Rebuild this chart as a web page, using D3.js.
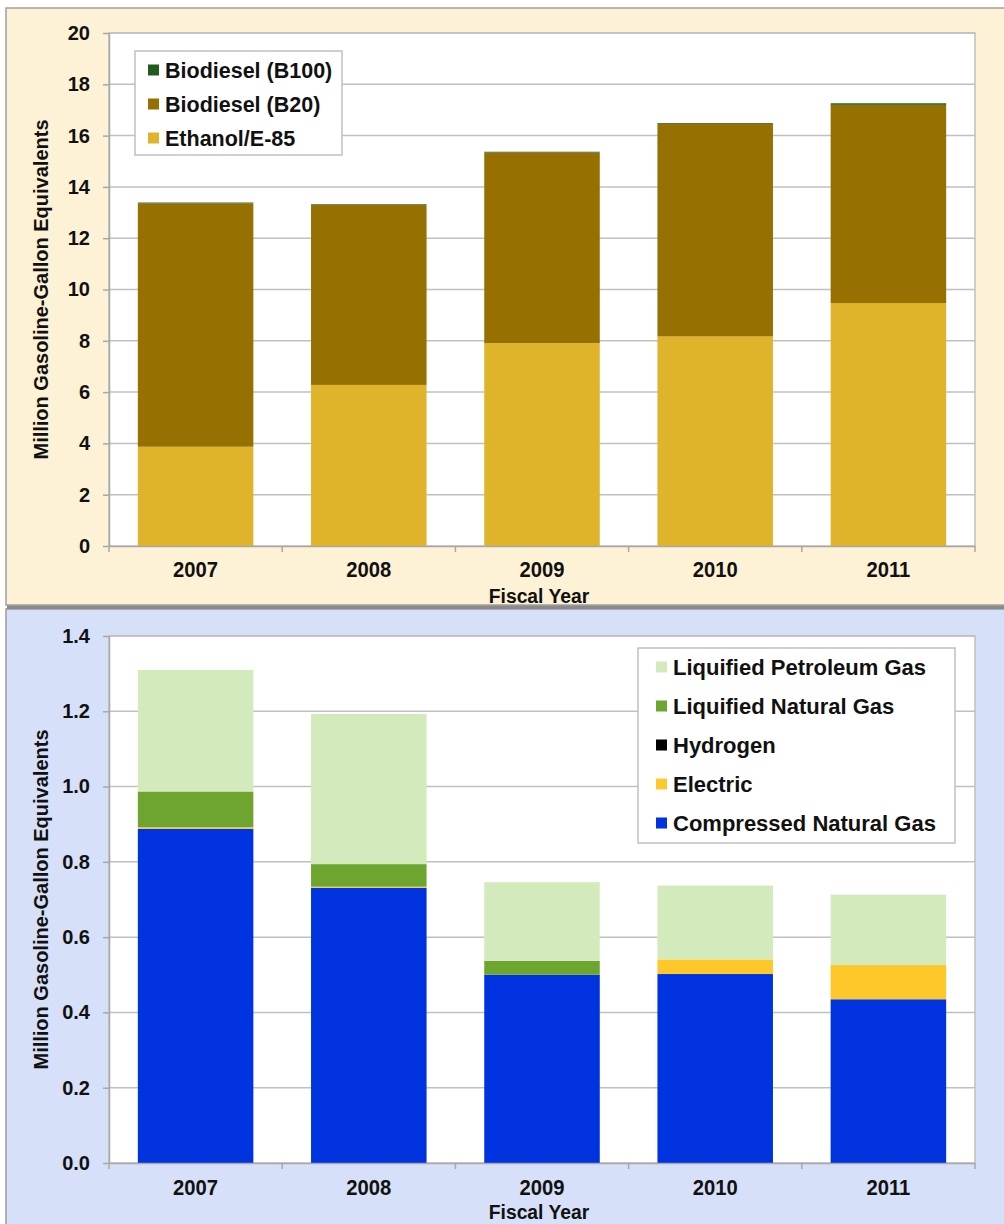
<!DOCTYPE html>
<html>
<head>
<meta charset="utf-8">
<script src="https://cdn.jsdelivr.net/npm/d3@7"></script>
<style>
  body { margin: 0; padding: 0; background: #ffffff; }
  svg text { font-family: "Liberation Sans", Arial, sans-serif; font-weight: bold; fill: #111; }
</style>
</head>
<body>
<svg id="chart" width="1004" height="1224"></svg>
<script>
// ---------- DATA ----------
const years = ["2007", "2008", "2009", "2010", "2011"];

// Top chart (Million Gasoline-Gallon Equivalents)
const ethanolE85 = [3.87, 6.28, 7.91, 8.17, 9.47];
const biodieselB20 = [9.49, 7.03, 7.43, 8.29, 7.73];
const biodieselB100 = [0.03, 0.02, 0.03, 0.03, 0.06];
const topTicks = [0, 2, 4, 6, 8, 10, 12, 14, 16, 18, 20];

// Bottom chart
const cng = [0.888, 0.731, 0.500, 0.502, 0.435];
const electric = [0.004, 0.003, 0.000, 0.039, 0.091];
const hydrogen = [0.000, 0.000, 0.000, 0.000, 0.000];
const lng = [0.095, 0.060, 0.037, 0.000, 0.000];
const lpg = [0.323, 0.399, 0.209, 0.196, 0.187];
const bottomTicks = [0, 0.2, 0.4, 0.6, 0.8, 1.0, 1.2, 1.4];

const topSeries = [
  { name: "Ethanol/E-85", values: ethanolE85, color: "#E0B42A" },
  { name: "Biodiesel (B20)", values: biodieselB20, color: "#967000" },
  { name: "Biodiesel (B100)", values: biodieselB100, color: "#1F5A1F" }
];
const bottomSeries = [
  { name: "Compressed Natural Gas", values: cng, color: "#0033E0" },
  { name: "Electric", values: electric, color: "#FFC82A" },
  { name: "Hydrogen", values: hydrogen, color: "#000000" },
  { name: "Liquified Natural Gas", values: lng, color: "#6EA52E" },
  { name: "Liquified Petroleum Gas", values: lpg, color: "#D3EABC" }
];

// ---------- DRAW ----------
const svg = d3.select("#chart");
const gridColor = "#C0C0C0";
const axisColor = "#A8A8A8";

// panels
svg.append("rect").attr("x", 6).attr("y", 609).attr("width", 1004).attr("height", 620)
  .attr("fill", "#D6E0F8").attr("stroke", "#9A9A9A").attr("stroke-width", 1.5);
svg.append("rect").attr("x", 7).attr("y", 605).attr("width", 1004).attr("height", 4).attr("fill", "#8A8A8A");
svg.append("rect").attr("x", 6).attr("y", 8).attr("width", 1004).attr("height", 597)
  .attr("fill", "#FEF2D6").attr("stroke", "#A0A0A0").attr("stroke-width", 1.5);

function drawChart(cfg) {
  const { left, right, top, bottom, domainMax, ticks, fmt, series, yearBase, titleBase } = cfg;
  const x = d3.scaleBand().domain(years).range([left, right]).paddingInner(0.333).paddingOuter(0.1665);
  const y = d3.scaleLinear().domain([0, domainMax]).range([bottom, top]);
  const g = svg.append("g");

  // plot area
  g.append("rect").attr("x", left).attr("y", top).attr("width", right - left).attr("height", bottom - top)
    .attr("fill", "#ffffff").attr("stroke", gridColor).attr("stroke-width", 1.5);

  // gridlines
  g.append("g").selectAll("line").data(ticks.filter(t => t > 0)).join("line")
    .attr("x1", left).attr("x2", right)
    .attr("y1", d => y(d)).attr("y2", d => y(d))
    .attr("stroke", gridColor).attr("stroke-width", 1.5);

  // stacked bars
  const rows = years.map((yr, i) => {
    const o = { year: yr };
    series.forEach(s => o[s.name] = s.values[i]);
    return o;
  });
  const stack = d3.stack().keys(series.map(s => s.name))(rows);
  stack.forEach((layer, li) => {
    g.append("g").attr("fill", series[li].color).selectAll("rect").data(layer).join("rect")
      .attr("x", d => x(d.data.year))
      .attr("width", x.bandwidth())
      .attr("y", d => y(d[1]))
      .attr("height", d => Math.max(0, y(d[0]) - y(d[1])));
  });

  // y axis
  const yAxis = d3.axisLeft(y).tickValues(ticks).tickFormat(fmt).tickSizeInner(6).tickSizeOuter(0).tickPadding(13);
  const ya = g.append("g").attr("transform", `translate(${left},0)`).call(yAxis);
  ya.select(".domain").attr("stroke", axisColor).attr("stroke-width", 1.5);
  ya.selectAll(".tick line").attr("stroke", axisColor).attr("stroke-width", 1.5);
  ya.selectAll("text").style("font-size", "20px").attr("fill", "#111");

  // x axis
  const xAxis = d3.axisBottom(x).tickSize(0).tickPadding(0);
  const xa = g.append("g").attr("transform", `translate(0,${bottom})`).call(xAxis);
  xa.select(".domain").attr("stroke", axisColor).attr("stroke-width", 1.5);
  xa.selectAll("text").style("font-size", "22px").attr("fill", "#111")
    .attr("y", 0).attr("dy", 0)
    .attr("transform", `translate(0,${yearBase - bottom}) scale(0.92,1)`);
  // category separator ticks
  const seps = d3.range(years.length + 1).map(i => left + i * x.step());
  g.append("g").selectAll("line").data(seps).join("line")
    .attr("x1", d => d).attr("x2", d => d).attr("y1", bottom).attr("y2", bottom + 6)
    .attr("stroke", axisColor).attr("stroke-width", 1.5);

  // titles
  g.append("text").attr("transform", `translate(${(left + right) / 2 - 3},${titleBase}) scale(0.92,1)`)
    .attr("text-anchor", "middle").style("font-size", "21px").text("Fiscal Year");
  g.append("text").attr("transform", `translate(48,${(top + bottom) / 2}) rotate(-90)`)
    .attr("text-anchor", "middle").style("font-size", "20px").text("Million Gasoline-Gallon Equivalents");
  return g;
}

function drawLegend(cfg) {
  const { bx, by, bw, bh, items, ys, mx, tx, fs } = cfg;
  const lg = svg.append("g");
  lg.append("rect").attr("x", bx).attr("y", by).attr("width", bw).attr("height", bh)
    .attr("fill", "#ffffff").attr("stroke", gridColor).attr("stroke-width", 1.5);
  const it = lg.selectAll("g.item").data(items).join("g").attr("class", "item")
    .attr("transform", (d, i) => `translate(0,${ys[i]})`);
  it.append("rect").attr("x", mx).attr("y", -5.5).attr("width", 11).attr("height", 11).attr("fill", d => d.color);
  it.append("text").attr("x", tx).attr("dy", "0.36em").style("font-size", fs + "px").text(d => d.name);
}

drawChart({
  left: 109, right: 975, top: 33, bottom: 546, domainMax: 20,
  ticks: topTicks, fmt: d3.format("d"), series: topSeries, yearBase: 577, titleBase: 603
});
drawLegend({
  bx: 135, by: 51, bw: 207, bh: 104,
  items: topSeries.slice().reverse(), ys: [70, 104, 138], mx: 148, tx: 165, fs: 21.5
});

drawChart({
  left: 109, right: 975, top: 636, bottom: 1163, domainMax: 1.4,
  ticks: bottomTicks, fmt: d3.format(".1f"), series: bottomSeries, yearBase: 1195, titleBase: 1219
});
drawLegend({
  bx: 638, by: 648, bw: 317, bh: 195,
  items: bottomSeries.slice().reverse(), ys: [667, 706, 745, 784, 823], mx: 656, tx: 673, fs: 22
});
</script>
</body>
</html>
